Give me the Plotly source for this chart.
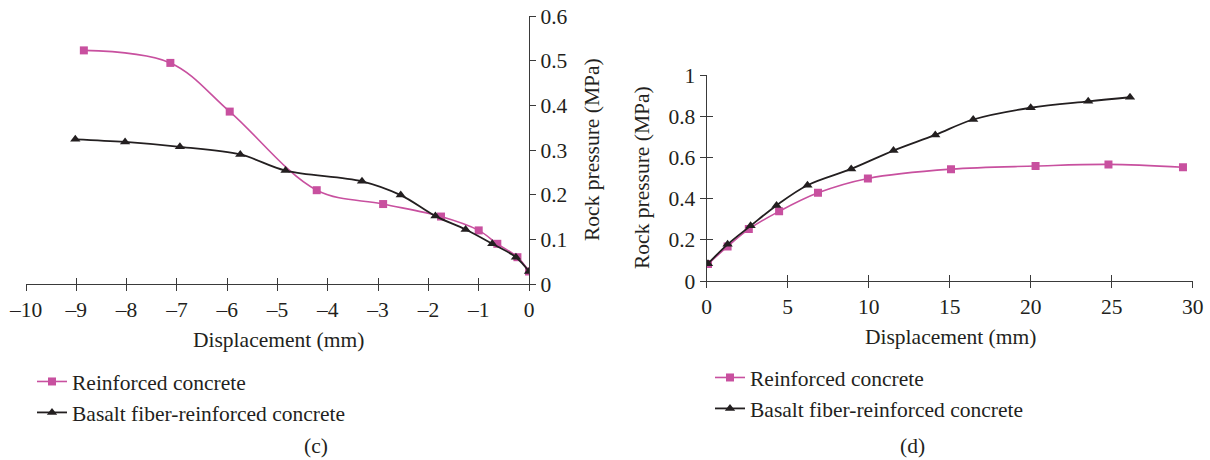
import plotly.graph_objects as go

# ---- Data: panel (c) ----
c_rc_x = [-8.85, -7.13, -5.95, -4.22, -2.90, -1.75, -1.00, -0.63, -0.23, 0.0]
c_rc_y = [0.523, 0.495, 0.386, 0.210, 0.179, 0.151, 0.120, 0.090, 0.060, 0.028]
c_bf_x = [-9.02, -8.03, -6.94, -5.74, -4.84, -3.32, -2.55, -1.86, -1.26, -0.73, -0.26, 0.0]
c_bf_y = [0.324, 0.318, 0.307, 0.290, 0.254, 0.230, 0.199, 0.152, 0.122, 0.090, 0.060, 0.028]

# ---- Data: panel (d) ----
d_rc_x = [0.08, 1.29, 2.60, 4.47, 6.87, 9.95, 15.08, 20.3, 24.8, 29.4]
d_rc_y = [0.082, 0.168, 0.252, 0.338, 0.428, 0.498, 0.543, 0.558, 0.566, 0.552]
d_bf_x = [0.08, 1.29, 2.71, 4.31, 6.22, 8.92, 11.53, 14.11, 16.45, 20.0, 23.55, 26.13]
d_bf_y = [0.084, 0.178, 0.268, 0.367, 0.465, 0.544, 0.633, 0.709, 0.784, 0.841, 0.872, 0.892]

series_names = ["Reinforced concrete", "Basalt fiber-reinforced concrete"]
c_xticks = [-10, -9, -8, -7, -6, -5, -4, -3, -2, -1, 0]
c_yticks = [0, 0.1, 0.2, 0.3, 0.4, 0.5, 0.6]
d_xticks = [0, 5, 10, 15, 20, 25, 30]
d_yticks = [0, 0.2, 0.4, 0.6, 0.8, 1]

PINK = "#C8509F"
BLACK = "#231F20"
AXC = "#3a3a3a"
FONT = "Liberation Serif"
FS = 21.5
W, H = 1210, 460

def px(x):
    return x / W

def py(y):
    return 1 - y / H

fig = go.Figure()

def add_series(x, y, name, color, symbol, size, width, xa, ya, legend):
    fig.add_trace(go.Scatter(
        x=x, y=y, name=name, mode="lines+markers",
        line=dict(color=color, width=width, shape="spline", smoothing=1.0),
        marker=dict(color=color, symbol=symbol, size=size),
        xaxis=xa, yaxis=ya, legend=legend,
    ))

add_series(c_rc_x, c_rc_y, series_names[0], PINK, "square", 8, 1.6, "x", "y", "legend")
add_series(c_bf_x, c_bf_y, series_names[1], BLACK, "triangle-up", 9, 1.8, "x", "y", "legend")
add_series(d_rc_x, d_rc_y, series_names[0], PINK, "square", 8, 1.6, "x2", "y2", "legend2")
add_series(d_bf_x, d_bf_y, series_names[1], BLACK, "triangle-up", 9, 1.8, "x2", "y2", "legend2")

# empty traces to anchor overlay tick axes
for xa, ya in [("x3", "y"), ("x4", "y2"), ("x2", "y4")]:
    fig.add_trace(go.Scatter(x=[], y=[], xaxis=xa, yaxis=ya, showlegend=False, hoverinfo="skip"))

tickfont = dict(family=FONT, size=FS, color="#231F20")
c_dom_x = [px(26), px(529)]
c_dom_y = [py(284), py(16)]
d_dom_x = [px(706.7), px(1192.7)]
d_dom_y = [py(281), py(75)]

base = dict(showgrid=False, zeroline=False, showline=True, linecolor=AXC, linewidth=1.3,
            tickcolor=AXC, tickwidth=1.3, tickfont=tickfont, automargin=False)
over = dict(showgrid=False, zeroline=False, showline=False, showticklabels=False,
            ticks="inside", ticklen=6, tickcolor=AXC, tickwidth=1.3, automargin=False,
            tickmode="array")

fig.update_layout(
    width=W, height=H, autosize=False,
    margin=dict(l=0, r=0, t=0, b=0, autoexpand=False),
    paper_bgcolor="white", plot_bgcolor="rgba(0,0,0,0)",
    font=dict(family=FONT, size=FS, color="#231F20"),
    xaxis=dict(**base, domain=c_dom_x, range=[-10, 0], anchor="y",
               tickmode="array", tickvals=c_xticks,
               ticktext=["\u2013" + str(abs(v)) if v < 0 else str(v) for v in c_xticks],
               ticks="outside", ticklen=6),
    yaxis=dict(**base, domain=c_dom_y, range=[0, 0.6], anchor="x", side="right",
               tickmode="array", tickvals=c_yticks, ticktext=[("%g" % v) for v in c_yticks],
               ticks="outside", ticklen=6),
    xaxis3=dict(**over, domain=c_dom_x, range=[-10, 0], anchor="y", overlaying="x",
                tickvals=c_xticks),
    xaxis2=dict(**base, domain=d_dom_x, range=[0, 30], anchor="y2",
                tickmode="array", tickvals=d_xticks, ticks="outside", ticklen=6),
    xaxis4=dict(**over, domain=d_dom_x, range=[0, 30], anchor="y2", overlaying="x2",
                tickvals=d_xticks),
    yaxis2=dict(**base, domain=d_dom_y, range=[0, 1], anchor="x2",
                tickmode="array", tickvals=d_yticks, ticktext=[("%g" % v) for v in d_yticks],
                ticks="outside", ticklen=6),
    yaxis4=dict(**over, domain=d_dom_y, range=[0, 1], anchor="x2", overlaying="y2",
                tickvals=d_yticks),
    legend=dict(x=px(32), y=py(361), xanchor="left", yanchor="top",
                font=dict(family=FONT, size=FS, color="#231F20"),
                bgcolor="rgba(0,0,0,0)", tracegroupgap=0, itemwidth=30),
    legend2=dict(x=px(710), y=py(357), xanchor="left", yanchor="top",
                 font=dict(family=FONT, size=FS, color="#231F20"),
                 bgcolor="rgba(0,0,0,0)", tracegroupgap=0, itemwidth=30),
    showlegend=True,
)

annos = [
    dict(text="Displacement (mm)", x=px(278), y=py(340), textangle=0),
    dict(text="Rock pressure (MPa)", x=px(592), y=py(150), textangle=-90),
    dict(text="Displacement (mm)", x=px(950), y=py(337), textangle=0),
    dict(text="Rock pressure (MPa)", x=px(642), y=py(178), textangle=-90),
    dict(text="(c)", x=px(316), y=py(446), textangle=0),
    dict(text="(d)", x=px(912), y=py(446), textangle=0),
]
for a in annos:
    fig.add_annotation(xref="paper", yref="paper", x=a["x"], y=a["y"], text=a["text"],
                       textangle=a["textangle"], showarrow=False,
                       xanchor="center", yanchor="middle",
                       font=dict(family=FONT, size=FS, color="#231F20"))

fig.write_html("out.html",
               config={"displayModeBar": False},
               post_script="document.body.style.margin='0';document.body.style.padding='0';document.body.style.overflow='hidden';")
